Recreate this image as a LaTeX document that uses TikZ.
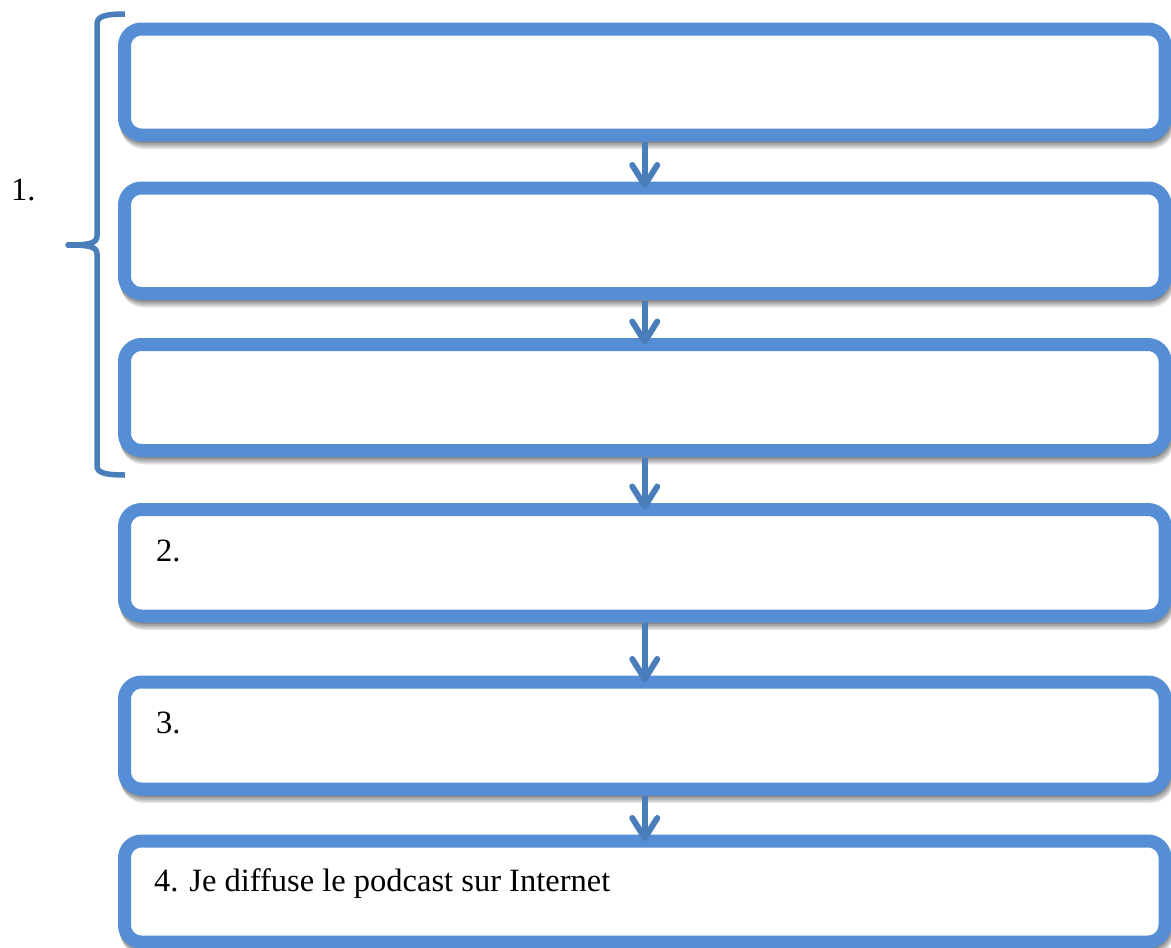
\documentclass[tikz,border=0pt]{standalone}
\usepackage{fontspec}
\setmainfont{Liberation Serif}
\usetikzlibrary{arrows.meta}
\definecolor{boxblue}{HTML}{558ED5}
\definecolor{arrblue}{HTML}{4A7EBB}
\tikzset{
  shadowlayer/.style={preaction={draw=black,fill=black,opacity=0.1,transform canvas={shift={(#1)}}}},
  stepbox/.style={
    shape=rectangle, rounded corners=17pt, draw=boxblue, fill=white,
    line width=13pt, outer sep=0pt, inner sep=0pt,
    minimum width=1040.5pt,
    shadowlayer={0.5pt,-1.5pt}, shadowlayer={1pt,-3pt}, shadowlayer={1.5pt,-4.5pt},
    shadowlayer={2pt,-6pt}, shadowlayer={2.5pt,-7.5pt}},
  lbl/.style={anchor=base west, inner sep=0pt, font=\fontsize{32.5}{38}\selectfont},
  arr/.style={draw=arrblue, line width=6pt, shorten <=7pt,
    -{Straight Barb[length=20pt, width=25pt, round]}},
  brace/.style={draw=arrblue, line width=5.5pt}
}
\begin{document}
\begin{tikzpicture}[x=1pt,y=-1pt]
\useasboundingbox (0,0) rectangle (1171,948);
\clip (0,0) rectangle (1171,948);
% boxes
\node[stepbox, minimum height=106pt] (b1) at (644.75,82) {};
\node[stepbox, minimum height=105.5pt] (b2) at (644.75,240.75) {};
\node[stepbox, minimum height=106pt] (b3) at (644.75,397.5) {};
\node[stepbox, minimum height=106.5pt] (b4) at (644.75,562.75) {};
\node[stepbox, minimum height=107pt] (b5) at (644.75,735.5) {};
\node[stepbox, minimum height=101pt] (b6) at (644.75,891.5) {};
% labels
\node[lbl] (t1) at (11,200.7) {1.};
\node[lbl] (t2) at (156,561.7) {2.};
\node[lbl] (t3) at (156,733) {3.};
\node[lbl] (t4) at (154,891.7) {4. Je diffuse le podcast sur Internet};
% arrows
\draw[arr] (b1.south) -- (b2.north);
\draw[arr] (b2.south) -- (b3.north);
\draw[arr] (b3.south) -- (b4.north);
\draw[arr] (b4.south) -- (b5.north);
\draw[arr] (b5.south) -- (b6.north);
% brace
\draw[brace] (125,14) .. controls (106,14) and (97,16) .. (97,24) -- (97,236)
  .. controls (97,243) and (90,245) .. (68,245);
\draw[brace, line cap=round] (68,245) -- (69,245);
\draw[brace] (69,245) .. controls (90,245) and (97,247) .. (97,254) -- (97,466)
  .. controls (97,473) and (106,475) .. (125,475);
\end{tikzpicture}
\end{document}
